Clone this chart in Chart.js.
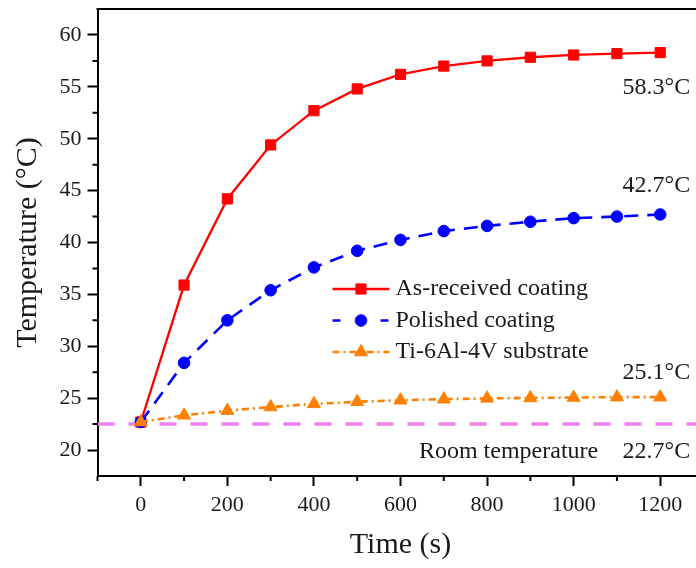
<!DOCTYPE html>
<html>
<head>
<meta charset="utf-8">
<script src="https://cdn.jsdelivr.net/npm/chart.js@4.4.1/dist/chart.umd.min.js"></script>
<style>
  html, body { margin: 0; padding: 0; background: #fff; overflow: hidden; }
  #wrap { width: 712px; height: 568px; }
  canvas { display: block; }
</style>
</head>
<body>
<div id="wrap"><canvas id="tempChart" width="712" height="568"></canvas></div>
<script>
// data
var times = [0, 100, 200, 300, 400, 500, 600, 700, 800, 900, 1000, 1100, 1200];
var asReceived = [22.7, 35.9, 44.2, 49.4, 52.7, 54.8, 56.2, 57.0, 57.5, 57.85, 58.07, 58.2, 58.3];
var polished = [22.7, 28.4, 32.5, 35.4, 37.6, 39.2, 40.25, 41.1, 41.6, 42.0, 42.35, 42.5, 42.7];
var substrate = [22.7, 23.35, 23.8, 24.15, 24.45, 24.65, 24.8, 24.9, 24.98, 25.02, 25.06, 25.1, 25.1];
var roomLevel = 22.5;

var seriesNames = ['As-received coating', 'Polished coating', 'Ti-6Al-4V substrate'];
var endLabels = ['58.3°C', '42.7°C', '25.1°C'];
var roomLabel = 'Room temperature';
var roomValueLabel = '22.7°C';

var xMin = -100, xMax = 1300;
var yMin = 17.5, yMax = 62.5;
var xTicks = [0, 200, 400, 600, 800, 1000, 1200];
var yTicks = [20, 25, 30, 35, 40, 45, 50, 55, 60];
var xMinor = [-100, 100, 300, 500, 700, 900, 1100, 1300];
var yMinor = [22.5, 27.5, 32.5, 37.5, 42.5, 47.5, 52.5, 57.5];

var serif = '"Liberation Serif", "DejaVu Serif", serif';
var textColor = '#1a1a1a';

function pts(arr) {
    return times.map(function (t, i) { return {x: t, y: arr[i]}; });
}

function noEdgePadding(s) {
    s.paddingTop = 0;
    s.paddingBottom = 0;
    s.paddingLeft = 0;
    s.paddingRight = 0;
}

var extras = {
    id: 'extras',
    afterDraw: function (chart) {
        var ctx = chart.ctx;
        var area = chart.chartArea;
        var xs = chart.scales.x, ys = chart.scales.y;
        ctx.save();

        // top frame line
        ctx.strokeStyle = '#000';
        ctx.lineWidth = 2;
        ctx.beginPath();
        ctx.moveTo(area.left - 1, area.top);
        ctx.lineTo(area.right, area.top);
        ctx.stroke();

        // minor ticks
        ctx.beginPath();
        yMinor.forEach(function (v) {
            var y = ys.getPixelForValue(v);
            ctx.moveTo(area.left - 5, y);
            ctx.lineTo(area.left, y);
        });
        xMinor.forEach(function (v) {
            var x = xs.getPixelForValue(v);
            ctx.moveTo(x, area.bottom);
            ctx.lineTo(x, area.bottom + 5);
        });
        ctx.stroke();

        // end-value labels
        ctx.fillStyle = textColor;
        ctx.font = '24px ' + serif;
        ctx.textAlign = 'right';
        ctx.textBaseline = 'middle';
        var xr = xs.getPixelForValue(times[times.length - 1]) + 30;
        var offsets = [35, -29, -24];
        [asReceived, polished, substrate].forEach(function (s, i) {
            ctx.fillText(endLabels[i], xr, ys.getPixelForValue(s[s.length - 1]) + offsets[i]);
        });
        var yr = ys.getPixelForValue(roomLevel) + 28;
        ctx.fillText(roomValueLabel, xr, yr);
        ctx.fillText(roomLabel, xr - 92, yr);

        // legend: line sample + marker + text
        var lx = area.left + 235, ly = area.top + 280, rowH = 31.5;
        chart.data.datasets.forEach(function (ds, i) {
            if (i > 2) return;
            var y = ly + i * rowH;
            ctx.save();
            ctx.strokeStyle = ds.borderColor;
            ctx.lineWidth = ds.borderWidth;
            ctx.setLineDash(ds.legendDash || ds.borderDash || []);
            ctx.beginPath();
            ctx.moveTo(lx, y);
            ctx.lineTo(lx + 57, y);
            ctx.stroke();
            ctx.restore();
            ctx.save();
            ctx.fillStyle = ds.backgroundColor;
            ctx.strokeStyle = ds.borderColor;
            ctx.lineWidth = 1;
            Chart.helpers.drawPoint(ctx, {
                pointStyle: ds.pointStyle,
                radius: ds.pointRadius,
                borderWidth: 1,
                rotation: 0
            }, lx + 28.5, y);
            ctx.restore();
            ctx.fillStyle = textColor;
            ctx.font = '24px ' + serif;
            ctx.textAlign = 'left';
            ctx.textBaseline = 'middle';
            ctx.fillText(seriesNames[i], lx + 63, y);
        });
        ctx.restore();
    }
};

var ctx = document.getElementById('tempChart').getContext('2d');
var tempChart = new Chart(ctx, {
    type: 'line',
    data: {
        datasets: [{
            label: seriesNames[0],
            data: pts(asReceived),
            borderColor: '#ff0000',
            backgroundColor: '#ff0000',
            borderWidth: 2.3,
            pointStyle: 'rect',
            pointRadius: 7.2,
            pointBorderWidth: 1,
            order: 2
        }, {
            label: seriesNames[1],
            data: pts(polished),
            borderColor: '#0000ff',
            backgroundColor: '#0000ff',
            borderWidth: 2.6,
            borderDash: [14, 9],
            legendDash: [8, 40],
            pointStyle: 'circle',
            pointRadius: 5.8,
            pointBorderWidth: 1,
            order: 1
        }, {
            label: seriesNames[2],
            data: pts(substrate),
            borderColor: '#ff8000',
            backgroundColor: '#ff8000',
            borderWidth: 2.6,
            borderDash: [7, 4, 2, 4],
            pointStyle: 'triangle',
            pointRadius: 7.5,
            pointBorderWidth: 1,
            order: 0
        }, {
            label: 'room',
            data: [{x: xMin, y: roomLevel}, {x: xMax, y: roomLevel}],
            borderColor: '#ee82ee',
            borderWidth: 3.5,
            borderDash: [17, 14],
            pointRadius: 0,
            order: 3
        }]
    },
    options: {
        responsive: false,
        animation: false,
        events: [],
        layout: { padding: { left: 0, right: 8, top: 9, bottom: 0 } },
        plugins: {
            legend: { display: false },
            tooltip: { enabled: false }
        },
        scales: {
            x: {
                type: 'linear',
                min: xMin,
                max: xMax,
                afterFit: function (s) { s.height = 92; noEdgePadding(s); },
                afterBuildTicks: function (s) { s.ticks = xTicks.map(function (v) { return {value: v}; }); },
                grid: { drawOnChartArea: false, tickLength: 10, tickWidth: 2, tickColor: '#000' },
                border: { display: true, color: '#000', width: 2 },
                ticks: {
                    padding: 6, color: textColor, autoSkip: false, maxRotation: 0,
                    font: { family: serif, size: 22 },
                    callback: function (v) { return String(v); }
                },
                title: {
                    display: true, text: 'Time (s)', color: textColor,
                    font: { family: serif, size: 30, lineHeight: 1 },
                    padding: { top: 0, bottom: 8 }
                }
            },
            y: {
                min: yMin,
                max: yMax,
                afterFit: function (s) { s.width = 97.5; noEdgePadding(s); },
                afterBuildTicks: function (s) { s.ticks = yTicks.map(function (v) { return {value: v}; }); },
                grid: { drawOnChartArea: false, tickLength: 10, tickWidth: 2, tickColor: '#000' },
                border: { display: true, color: '#000', width: 2 },
                ticks: {
                    padding: 6, color: textColor,
                    font: { family: serif, size: 22 },
                    callback: function (v) { return String(v); }
                },
                title: {
                    display: true, text: 'Temperature (°C)', color: textColor,
                    font: { family: serif, size: 30, lineHeight: 1 },
                    padding: { top: 13, bottom: 0 }
                }
            }
        }
    },
    plugins: [extras]
});
</script>
</body>
</html>
